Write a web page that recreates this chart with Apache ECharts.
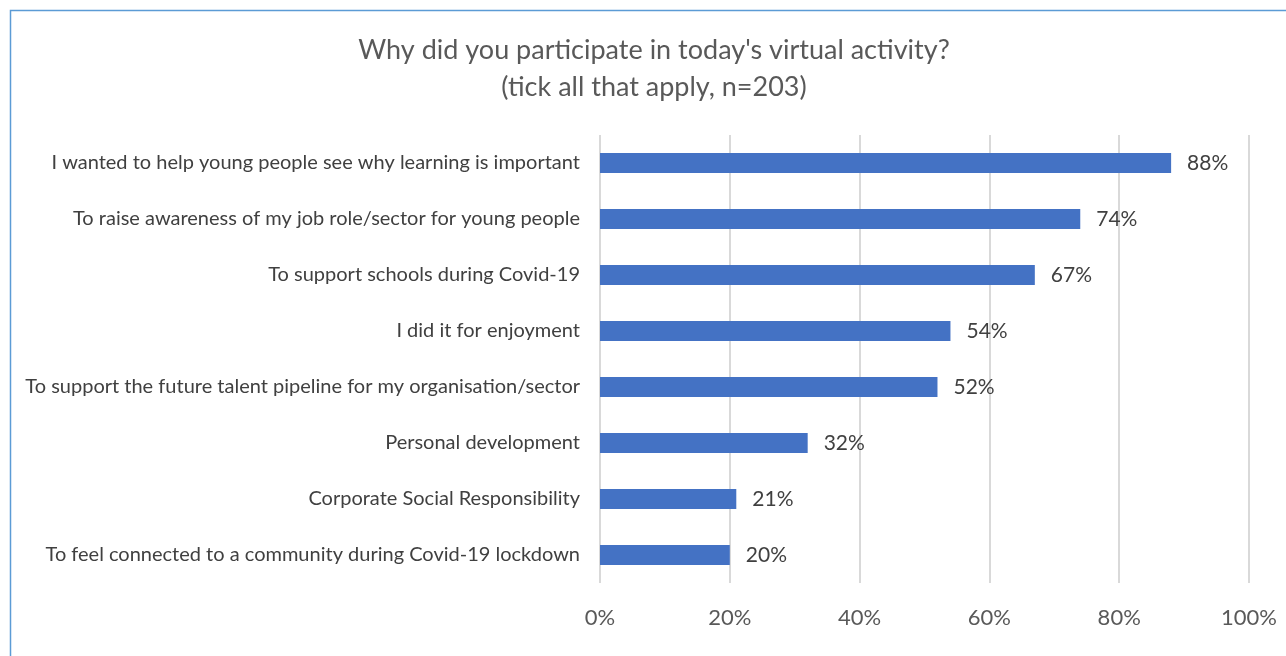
<!DOCTYPE html>
<html>
<head>
<meta charset="utf-8">
<script src="https://cdn.jsdelivr.net/npm/echarts@6/dist/echarts.min.js"></script>
<style>
  html, body { margin: 0; padding: 0; background: #fff; }
  #chart { width: 1286px; height: 656px; }
</style>
</head>
<body>
<div id="chart"></div>
<script>
// Survey reasons, top to bottom
const categories = [
  "I wanted to help young people see why learning is important",
  "To raise awareness of my job role/sector for young people",
  "To support schools during Covid-19",
  "I did it for enjoyment",
  "To support the future talent pipeline for my organisation/sector",
  "Personal development",
  "Corporate Social Responsibility",
  "To feel connected to a community during Covid-19 lockdown"
];
// Share of respondents (%)
const values = [88, 74, 67, 54, 52, 32, 21, 20];
const titleLines = ["Why did you participate in today's virtual activity?", "(tick all that apply, n=203)"];

const FONT = 'Lato, "Open Sans", sans-serif';
const chart = echarts.init(document.getElementById('chart'), null, { renderer: 'canvas' });
chart.setOption({
  backgroundColor: '#ffffff',
  animation: false,
  title: {
    text: titleLines.join('\n'),
    left: 649,
    textAlign: 'center',
    top: 27,
    textStyle: { fontFamily: FONT, fontSize: 27, fontWeight: 'normal', color: '#595959', lineHeight: 37 }
  },
  graphic: [{
    type: 'rect',
    shape: { x: 10.5, y: 10.5, width: 1300, height: 700 },
    style: { fill: 'none', stroke: '#5B9BD5', lineWidth: 1.5 },
    silent: true
  }],
  grid: { left: 600, right: 37, top: 135, bottom: 73, containLabel: false },
  xAxis: {
    type: 'value',
    min: 0, max: 100, interval: 20,
    axisLine: { show: false },
    axisTick: { show: false },
    splitLine: { show: true, lineStyle: { color: '#d9d9d9', width: 2 } },
    axisLabel: { formatter: '{value}%', fontFamily: FONT, fontSize: 22, color: '#595959', margin: 24 }
  },
  yAxis: {
    type: 'category',
    inverse: true,
    data: categories,
    axisLine: { show: false },
    axisTick: { show: false },
    axisLabel: { fontFamily: FONT, fontSize: 20, color: '#404040', margin: 20 }
  },
  series: [{
    type: 'bar',
    data: values,
    barWidth: 20,
    itemStyle: { color: '#4472C4' },
    label: {
      show: true,
      position: 'right',
      distance: 16,
      formatter: '{c}%',
      fontFamily: FONT,
      fontSize: 21,
      color: '#404040'
    }
  }]
});
</script>
</body>
</html>
